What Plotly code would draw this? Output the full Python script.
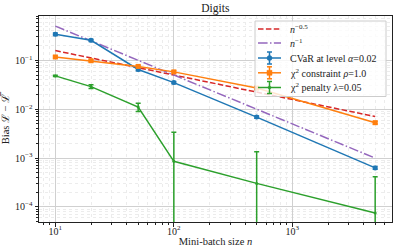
import plotly.graph_objects as go

n = [10, 20, 50, 100, 500, 5000]
ref_half = [0.158, 0.112, 0.0707, 0.05, 0.0224, 0.00707]
ref_one = [0.5, 0.25, 0.1, 0.05, 0.01, 0.001]
cvar = [0.34, 0.256, 0.065, 0.035, 0.0069, 0.00063]
cvar_err = [0.02, 0.015, 0.004, 0.002, 0.0004, 0.00004]
chi_c = [0.117, 0.098, 0.075, 0.058, 0.027, 0.0053]
chi_c_err = [0.006, 0.005, 0.004, 0.003, 0.0015, 0.0003]
chi_p = [0.048, 0.029, 0.0111, 0.00086, 0.000304, 0.0000754]
chi_p_err = [0.0015, 0.0025, 0.0021, 0.0025, 0.00105, 0.00034]

xticks = [10, 100, 1000]
xtext = ["10<sup>1</sup>", "10<sup>2</sup>", "10<sup>3</sup>"]
yticks = [1e-4, 1e-3, 1e-2, 1e-1]
ytext = ["10<sup>−4</sup>", "10<sup>−3</sup>", "10<sup>−2</sup>", "10<sup>−1</sup>"]

names = ["<i>n</i><sup>−0.5</sup>", "<i>n</i><sup>−1</sup>", "CVaR at level <i>α</i>=0.02",
         "χ<sup>2</sup> constraint <i>ρ</i>=1.0", "χ<sup>2</sup> penalty λ=0.05"]

BLUE, ORANGE, GREEN, RED, PURPLE = "#1f77b4", "#ff7f0e", "#2ca02c", "#d62728", "#9467bd"
DASH = "5.5px,2.4px"
DASHDOT = "9.6px,2.4px,1.5px,2.4px"
FONT = "Liberation Serif"
TXT = "#222"

fig = go.Figure()
fig.add_trace(go.Scatter(x=n, y=ref_half, mode="lines", name=names[0],
                         line=dict(color=RED, width=1.5, dash=DASH)))
fig.add_trace(go.Scatter(x=n, y=ref_one, mode="lines", name=names[1],
                         line=dict(color=PURPLE, width=1.5, dash=DASHDOT)))
fig.add_trace(go.Scatter(x=n, y=cvar, mode="lines+markers", name=names[2],
                         line=dict(color=BLUE, width=1.5), marker=dict(symbol="circle", size=5, color=BLUE),
                         error_y=dict(type="data", array=cvar_err, color=BLUE, thickness=1.5, width=2.5)))
fig.add_trace(go.Scatter(x=n, y=chi_c, mode="lines+markers", name=names[3],
                         line=dict(color=ORANGE, width=1.5), marker=dict(symbol="square", size=5, color=ORANGE),
                         error_y=dict(type="data", array=chi_c_err, color=ORANGE, thickness=1.5, width=2.5)))
fig.add_trace(go.Scatter(x=n, y=chi_p, mode="lines+markers", name=names[4],
                         line=dict(color=GREEN, width=1.5), marker=dict(symbol="circle", size=3, color=GREEN),
                         error_y=dict(type="data", array=chi_p_err, color=GREEN, thickness=1.5, width=2.5)))

axis_common = dict(
    type="log", automargin=False, showline=True, linecolor=TXT, linewidth=1, mirror=True,
    ticks="outside", ticklen=3.5, tickcolor=TXT, tickwidth=0.8,
    showgrid=True, gridcolor="#d0d0d0", gridwidth=1, zeroline=False,
    tickfont=dict(family=FONT, size=10, color=TXT),
    minor=dict(dtick="D1", ticks="outside", ticklen=2, tickcolor=TXT, tickwidth=0.6,
               showgrid=True, gridcolor="#ececec", gridwidth=0.6, griddash="dot"),
)

fig.update_xaxes(**axis_common, range=[0.862, 3.841], tickmode="array", tickvals=xticks, ticktext=xtext,
                 ticklabelstandoff=-4,
                 title=dict(text="Mini-batch size <i>n</i>", font=dict(family=FONT, size=10.5, color=TXT), standoff=2))
fig.update_yaxes(**axis_common, range=[-4.307, -0.094], tickmode="array", tickvals=yticks, ticktext=ytext,
                 title=dict(text="Bias ℒ − ℒ̅", font=dict(family=FONT, size=10.5, color=TXT), standoff=3))

# ---- hand-built legend (matplotlib-like compact layout) ----
L, T, W, H = 39, 16, 353, 206
px = lambda v: (v - L) / W
py = lambda v: (T + H - v) / H
shapes = [dict(type="rect", xref="paper", yref="paper", layer="above",
               x0=px(255), x1=px(386), y0=py(96.5), y1=py(21),
               fillcolor="rgba(255,255,255,0.8)", line=dict(color="#cccccc", width=1))]
annotations = []
rows = [29, 43, 58, 72.8, 87.5]
styles = [(RED, DASH, None), (PURPLE, DASHDOT, None), (BLUE, "solid", "circle"),
          (ORANGE, "solid", "square"), (GREEN, "solid", "dot")]
for name, yrow, (col, dash, sym) in zip(names, rows, styles):
    yy = py(yrow)
    shapes.append(dict(type="line", xref="paper", yref="paper", layer="above",
                       x0=px(258), x1=px(281), y0=yy, y1=yy, line=dict(color=col, width=1.5, dash=dash)))
    if sym is not None:
        xc = px(269.5)
        shapes.append(dict(type="line", xref="paper", yref="paper", layer="above",
                           xsizemode="pixel", ysizemode="pixel", xanchor=xc, yanchor=yy,
                           x0=0, x1=0, y0=-6, y1=6, line=dict(color=col, width=1.5)))
        for cy in (-6, 6):
            shapes.append(dict(type="line", xref="paper", yref="paper", layer="above",
                               xsizemode="pixel", ysizemode="pixel", xanchor=xc, yanchor=yy,
                               x0=-2.5, x1=2.5, y0=cy, y1=cy, line=dict(color=col, width=1.5)))
        r = 2.5 if sym != "dot" else 1.5
        shapes.append(dict(type="circle" if sym != "square" else "rect", xref="paper", yref="paper",
                           layer="above", xsizemode="pixel", ysizemode="pixel", xanchor=xc, yanchor=yy,
                           x0=-r, x1=r, y0=-r, y1=r, fillcolor=col, line=dict(color=col, width=0.5)))
    annotations.append(dict(xref="paper", yref="paper", x=px(288), y=yy, xanchor="left", yanchor="middle",
                            text=name, showarrow=False, font=dict(family=FONT, size=10, color=TXT)))

fig.update_layout(
    width=398, height=252,
    margin=dict(l=L, r=398 - L - W, t=T, b=252 - T - H),
    paper_bgcolor="white", plot_bgcolor="white",
    title=dict(text="Digits", x=0.541, xanchor="center", y=0.968, yanchor="middle",
               font=dict(family=FONT, size=11.5, color=TXT)),
    font=dict(family=FONT, size=10, color=TXT),
    showlegend=False,
    shapes=shapes, annotations=annotations,
)

fig.write_html("out.html", config={"displayModeBar": False},
               post_script="document.body.style.margin='0';document.body.style.padding='0';")
